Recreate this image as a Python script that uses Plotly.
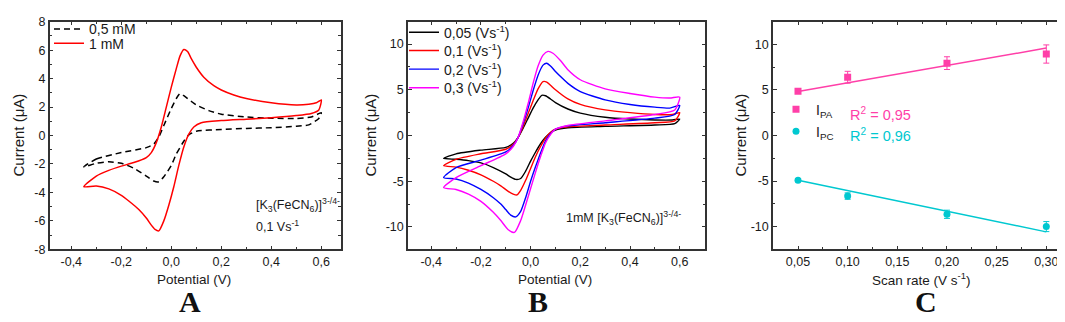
import plotly.graph_objects as go

# ---------------- Panel A data (V, uA) ----------------
a05_x = [-0.35, -0.3, -0.2, -0.1, -0.07, -0.05, -0.03, 0.0, 0.02, 0.035, 0.05, 0.08, 0.1, 0.15, 0.2, 0.3, 0.4, 0.5, 0.56, 0.6,
         0.59, 0.55, 0.5, 0.4, 0.3, 0.2, 0.1, 0.07, 0.05, 0.02, 0.0, -0.03, -0.05, -0.07, -0.1, -0.15, -0.2, -0.25, -0.3, -0.35]
a05_y = [-2.2, -1.65, -1.2, -0.85, -0.6, -0.1, 0.7, 1.9, 2.6, 2.95, 2.8, 2.4, 2.15, 1.75, 1.5, 1.3, 1.22, 1.2, 1.3, 1.6,
         1.2, 0.75, 0.65, 0.55, 0.5, 0.42, 0.3, 0.05, -0.4, -1.3, -2.1, -2.9, -3.25, -3.2, -2.85, -2.3, -1.95, -1.85, -1.95, -2.2]

a1_x = [-0.35, -0.3, -0.25, -0.2, -0.15, -0.1, -0.08, -0.06, -0.04, -0.02, 0.0, 0.02, 0.035, 0.05, 0.065, 0.08, 0.1, 0.13, 0.17,
        0.2, 0.25, 0.3, 0.4, 0.5, 0.55, 0.58, 0.6,
        0.59, 0.56, 0.5, 0.4, 0.3, 0.2, 0.12, 0.09, 0.07, 0.05, 0.03, 0.01, -0.01, -0.03, -0.05, -0.065, -0.08, -0.1, -0.13,
        -0.17, -0.2, -0.25, -0.3, -0.35]
a1_y = [-3.6, -2.85, -2.45, -2.15, -1.9, -1.55, -1.2, -0.5, 0.6, 2.0, 3.4, 4.7, 5.6, 6.05, 5.9, 5.4, 4.8, 4.1, 3.5,
        3.2, 2.85, 2.6, 2.3, 2.15, 2.2, 2.3, 2.5,
        1.8, 1.55, 1.4, 1.25, 1.15, 1.05, 0.9, 0.6, 0.1, -0.8, -2.1, -3.6, -4.9, -6.0, -6.7, -6.6, -6.3, -5.8, -5.2,
        -4.6, -4.2, -3.75, -3.55, -3.6]

# ---------------- Panel B data (V, uA) ----------------
b005_x = [-0.35, -0.3, -0.2, -0.1, -0.07, -0.05, -0.03, -0.01, 0.01, 0.03, 0.045, 0.06, 0.08, 0.1, 0.15, 0.2, 0.3, 0.4, 0.5, 0.57, 0.6,
          0.58, 0.5, 0.3, 0.15, 0.1, 0.08, 0.06, 0.04, 0.02, 0.0, -0.02, -0.04, -0.06, -0.08, -0.1, -0.15, -0.2, -0.25, -0.3, -0.35]
b005_y = [-2.5, -2.0, -1.6, -1.3, -0.85, -0.2, 0.8, 1.9, 3.0, 3.9, 4.4, 4.35, 4.0, 3.6, 2.9, 2.45, 2.0, 1.8, 1.7, 1.7, 1.8,
          1.3, 1.15, 1.0, 0.85, 0.6, 0.3, -0.2, -0.9, -1.8, -2.8, -3.9, -4.7, -4.8, -4.55, -4.2, -3.5, -3.0, -2.75, -2.6, -2.5]

b01_x = [-0.35, -0.3, -0.2, -0.1, -0.07, -0.05, -0.03, -0.01, 0.01, 0.03, 0.05, 0.065, 0.08, 0.1, 0.15, 0.2, 0.3, 0.4, 0.5, 0.57, 0.6,
         0.58, 0.5, 0.3, 0.15, 0.1, 0.08, 0.06, 0.04, 0.02, 0.0, -0.02, -0.04, -0.055, -0.07, -0.09, -0.12, -0.15, -0.2, -0.25, -0.3, -0.35]
b01_y = [-3.3, -2.6, -2.0, -1.5, -0.95, -0.2, 1.0, 2.4, 3.8, 5.1, 5.9, 5.85, 5.5, 5.0, 4.0, 3.4, 2.8, 2.5, 2.3, 2.3, 2.5,
         1.6, 1.4, 1.15, 0.95, 0.7, 0.35, -0.3, -1.2, -2.3, -3.6, -4.9, -6.0, -6.5, -6.4, -6.1, -5.5, -5.0, -4.3, -3.8, -3.45, -3.3]

b02_x = [-0.35, -0.3, -0.2, -0.1, -0.07, -0.05, -0.03, -0.01, 0.01, 0.03, 0.05, 0.065, 0.08, 0.1, 0.13, 0.15, 0.2, 0.3, 0.4, 0.5, 0.56, 0.6,
         0.58, 0.5, 0.3, 0.15, 0.1, 0.08, 0.06, 0.04, 0.02, 0.0, -0.02, -0.04, -0.06, -0.08, -0.1, -0.12, -0.15, -0.2, -0.25, -0.3, -0.35]
b02_y = [-4.6, -3.5, -2.7, -1.8, -1.1, -0.2, 1.3, 3.0, 4.9, 6.6, 7.7, 7.9, 7.6, 7.0, 6.2, 5.7, 4.8, 3.9, 3.4, 3.1, 3.0, 3.3,
         2.3, 1.9, 1.4, 1.05, 0.7, 0.2, -0.6, -1.9, -3.4, -5.0, -6.8, -8.3, -8.9, -8.7, -8.1, -7.5, -6.8, -5.9, -5.2, -4.75, -4.6]

b03_x = [-0.35, -0.3, -0.2, -0.1, -0.07, -0.05, -0.03, -0.01, 0.01, 0.03, 0.05, 0.07, 0.09, 0.12, 0.15, 0.2, 0.3, 0.4, 0.5, 0.56, 0.6,
         0.58, 0.5, 0.3, 0.15, 0.1, 0.08, 0.06, 0.04, 0.02, 0.0, -0.02, -0.04, -0.065, -0.09, -0.12, -0.15, -0.2, -0.25, -0.3, -0.35]
b03_y = [-5.7, -4.6, -3.3, -2.0, -1.2, -0.2, 1.5, 3.5, 5.7, 7.6, 8.8, 9.2, 9.0, 8.2, 7.2, 6.1, 5.1, 4.6, 4.2, 4.1, 4.2,
         2.8, 2.3, 1.6, 1.1, 0.7, 0.1, -0.8, -2.3, -4.0, -5.8, -7.6, -9.3, -10.6, -10.3, -9.3, -8.4, -7.2, -6.4, -5.9, -5.7]

# ---------------- Panel C data ----------------
scan_rate = [0.05, 0.10, 0.20, 0.30]
ipa = [4.85, 6.4, 7.95, 8.95]
ipa_err = [0.15, 0.65, 0.7, 1.0]
ipc = [-4.9, -6.65, -8.65, -10.0]
ipc_err = [0.1, 0.35, 0.45, 0.55]
fit_x = [0.05, 0.30]
fit_pa = [4.83, 9.6]
fit_pc = [-4.9, -10.58]

# ---------------- tick labels ----------------
cv_xticks = [-0.4, -0.2, 0.0, 0.2, 0.4, 0.6]
cv_xtext = ["-0,4", "-0,2", "0,0", "0,2", "0,4", "0,6"]
a_yticks = [-8, -6, -4, -2, 0, 2, 4, 6, 8]
a_ytext = ["-8", "-6", "-4", "-2", "0", "2", "4", "6", "8"]
b_yticks = [-10, -5, 0, 5, 10]
b_ytext = ["-10", "-5", "0", "5", "10"]
c_xticks = [0.05, 0.10, 0.15, 0.20, 0.25, 0.30]
c_xtext = ["0,05", "0,10", "0,15", "0,20", "0,25", "0,30"]

FONT = "Liberation Sans, Arial, sans-serif"
AXC = "#333333"
PINK = "#ff3fa8"
CYAN = "#00c8d0"
H = 322.0
W = 1065.0

fig = go.Figure()

# Panel A
fig.add_trace(go.Scatter(x=a05_x, y=a05_y, mode="lines", name="0,5 mM",
                         line=dict(color="black", width=1.5, dash="6px,4px", shape="spline", smoothing=0.6),
                         xaxis="x", yaxis="y", legend="legend"))
fig.add_trace(go.Scatter(x=a1_x, y=a1_y, mode="lines", name="1 mM",
                         line=dict(color="#ff0000", width=1.5, shape="spline", smoothing=0.6),
                         xaxis="x", yaxis="y", legend="legend2"))

# Panel B
b_series = [(b005_x, b005_y, "0,05 (Vs<sup>-1</sup>)", "black"),
            (b01_x, b01_y, "0,1 (Vs<sup>-1</sup>)", "#ff0000"),
            (b02_x, b02_y, "0,2 (Vs<sup>-1</sup>)", "#0000ff"),
            (b03_x, b03_y, "0,3 (Vs<sup>-1</sup>)", "#ff00ff")]
for i, (xs, ys, nm, col) in enumerate(b_series):
    fig.add_trace(go.Scatter(x=xs, y=ys, mode="lines", name=nm,
                             line=dict(color=col, width=1.4, shape="spline", smoothing=0.6),
                             xaxis="x2", yaxis="y2", legend="legend%d" % (3 + i)))

# Panel C
fig.add_trace(go.Scatter(x=fit_x, y=fit_pa, mode="lines", showlegend=False,
                         line=dict(color=PINK, width=1.5), xaxis="x3", yaxis="y3"))
fig.add_trace(go.Scatter(x=fit_x, y=fit_pc, mode="lines", showlegend=False,
                         line=dict(color=CYAN, width=1.5), xaxis="x3", yaxis="y3"))
fig.add_trace(go.Scatter(x=scan_rate, y=ipa, mode="markers", name="I<sub>PA</sub>",
                         marker=dict(symbol="square", size=7, color=PINK),
                         error_y=dict(type="data", array=ipa_err, color=PINK, thickness=1, width=3),
                         xaxis="x3", yaxis="y3", legend="legend7"))
fig.add_trace(go.Scatter(x=scan_rate, y=ipc, mode="markers", name="I<sub>PC</sub>",
                         marker=dict(symbol="circle", size=7, color=CYAN),
                         error_y=dict(type="data", array=ipc_err, color=CYAN, thickness=1, width=3),
                         xaxis="x3", yaxis="y3", legend="legend8"))

ydom = [1 - 245 / H, 1 - 7 / H]


def axis(dom, rng, tickvals, ticktext, minor_dtick, anchor):
    return dict(domain=dom, range=rng, tickmode="array", tickvals=tickvals, ticktext=ticktext,
                ticks="inside", ticklen=4, tickwidth=1.2, tickcolor=AXC,
                minor=dict(ticks="inside", ticklen=2.5, tickwidth=1, tickcolor=AXC, dtick=minor_dtick,
                           showgrid=False),
                showline=True, linecolor=AXC, linewidth=1.5, mirror="ticks",
                showgrid=False, zeroline=False, anchor=anchor,
                tickfont=dict(family=FONT, size=12.5, color="#1a1a1a"))


def leg(x, yc):
    return dict(x=x / W, y=1 - yc / H, xanchor="left", yanchor="middle", bgcolor="rgba(0,0,0,0)",
                font=dict(family=FONT, size=14, color="#1a1a1a"), itemwidth=30, borderwidth=0)


fig.update_layout(
    width=1065, height=322,
    margin=dict(l=0, r=0, t=0, b=0),
    paper_bgcolor="white", plot_bgcolor="white",
    font=dict(family=FONT, size=13, color="#1a1a1a"),
    xaxis=axis([41.7 / W, 332.7 / W], [-0.4864, 0.6776], cv_xticks, cv_xtext, 0.1, "y"),
    yaxis=axis(ydom, [-8, 8], a_yticks, a_ytext, 1, "x"),
    xaxis2=axis([400 / W, 697.3 / W], [-0.4934, 0.703], cv_xticks, cv_xtext, 0.1, "y2"),
    yaxis2=axis(ydom, [-12.45, 12.45], b_yticks, b_ytext, 2.5, "x2"),
    xaxis3=axis([765 / W, 1063 / W], [0.02483, 0.32487], c_xticks, c_xtext, 0.025, "y3"),
    yaxis3=axis(ydom, [-12.5, 12.5], b_yticks, b_ytext, 2.5, "x3"),
    legend=leg(41, 15),
    legend2=leg(41, 30),
    legend3=leg(396, 18.5),
    legend4=leg(396, 37.5),
    legend5=leg(396, 57),
    legend6=leg(396, 76.5),
    legend7=leg(768, 99),
    legend8=leg(768, 122),
    showlegend=True,
)

ann = []


def txt(x, y, s, size=13, color="#1a1a1a", family=FONT, xanchor="center", yanchor="middle", angle=0):
    ann.append(dict(x=x / W, y=1 - y / H, xref="paper", yref="paper", text=s, showarrow=False,
                    font=dict(family=family, size=size, color=color), xanchor=xanchor, yanchor=yanchor,
                    textangle=angle))


# axis titles
txt(186, 276, "Potential (V)", size=13.5)
txt(547, 276, "Potential (V)", size=13.5)
txt(913, 276, "Scan rate (V s<sup>-1</sup>)", size=13.5)
txt(11, 126, "Current (μA)", size=15, angle=-90)
txt(363, 126, "Current (μA)", size=15, angle=-90)
txt(733, 126, "Current (μA)", size=15, angle=-90)

# in-plot notes
txt(246, 199, "[K<sub>3</sub>(FeCN<sub>6</sub>)]<sup>3-/4-</sup>", size=12.5, xanchor="left")
txt(246, 221, "0,1 Vs<sup>-1</sup>", size=12.5, xanchor="left")
txt(556, 212, "1mM [K<sub>3</sub>(FeCN<sub>6</sub>)]<sup>3-/4-</sup>", size=12.5, xanchor="left")
txt(840, 104, "R<sup>2</sup> = 0,95", size=14.5, color=PINK, xanchor="left")
txt(840, 125, "R<sup>2</sup> = 0,96", size=14.5, color=CYAN, xanchor="left")

# panel letters
SERIF = "Liberation Serif, Times New Roman, serif"
txt(182, 300, "<b>A</b>", size=30, color="#111111", family=SERIF)
txt(530, 300, "<b>B</b>", size=30, color="#111111", family=SERIF)
txt(918, 300, "<b>C</b>", size=30, color="#111111", family=SERIF)

fig.update_layout(annotations=ann)

fig.write_html("out.html")
